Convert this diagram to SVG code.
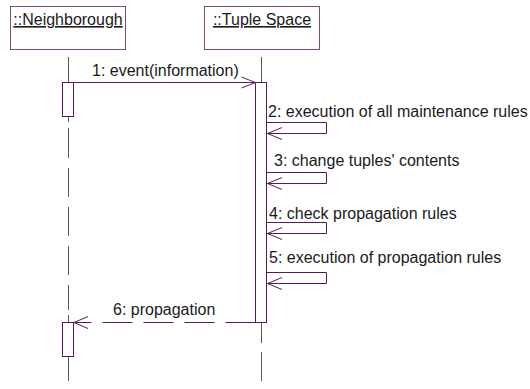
<svg xmlns="http://www.w3.org/2000/svg" width="530" height="389" viewBox="0 0 530 389">
  <style>
    .hdr{fill:#fff;stroke:#7b4f7b;stroke-width:1}
    .life{stroke:#5a5a5a;stroke-width:1;fill:none}
    .act{fill:#fff;stroke:#5a1a5a;stroke-width:1}
    .msg{stroke:#5a1a5a;stroke-width:1;fill:none}
    .dash{stroke-dasharray:30 11}
    text{font-family:"Liberation Sans",Arial,sans-serif;font-size:16px;fill:#1a1a1a}
    .name{text-decoration:underline;text-anchor:middle}
  </style>
  <rect width="530" height="389" fill="#fff"/>

  <!-- object: Neighborough -->
  <g id="neighborough">
    <rect class="hdr" x="10.5" y="6.5" width="115" height="43"/>
    <text class="name" x="68" y="25">::Neighborough</text>
    <path class="life" d="M68.5 57V82 M68.5 117V122 M68.5 128V158 M68.5 168V197 M68.5 207V236 M68.5 246V275 M68.5 285V310 M68.5 315V322 M68.5 357V381"/>
    <rect class="act" x="62.5" y="82.5" width="11" height="34"/>
    <rect class="act" x="62.5" y="322.5" width="11" height="34"/>
  </g>

  <!-- object: Tuple Space -->
  <g id="tuple-space">
    <rect class="hdr" x="204.5" y="6.5" width="115" height="43"/>
    <text class="name" x="262" y="25">::Tuple Space</text>
    <path class="life" d="M261.5 57V82 M261.5 323V343 M261.5 352V381"/>
    <rect class="act" x="255.5" y="82.5" width="11" height="240"/>
  </g>

  <!-- messages -->
  <g id="connectors">
    <path class="msg" d="M62.5 82.5H255.5"/>
    <polyline class="msg" points="241.5,77 255.5,82.5 241.5,88"/>
    <text x="92" y="76">1: event(information)</text>

    <path class="msg" d="M266.5 122.5H326.5V133.5H267"/>
    <polyline class="msg" points="282,127.5 267.5,133.5 282,139.5"/>
    <text x="268" y="117">2: execution of all maintenance rules</text>

    <path class="msg" d="M266.5 172.5H326.5V183.5H267"/>
    <polyline class="msg" points="282,177.5 267.5,183.5 282,189.5"/>
    <text x="274" y="166">3: change tuples' contents</text>

    <path class="msg" d="M266.5 222.5H326.5V233.5H267"/>
    <polyline class="msg" points="282,227.5 267.5,233.5 282,239.5"/>
    <text x="269" y="218.5">4: check propagation rules</text>

    <path class="msg" d="M266.5 272.5H326.5V283.5H267"/>
    <polyline class="msg" points="282,277.5 267.5,283.5 282,289.5"/>
    <text x="269" y="262.5">5: execution of propagation rules</text>

    <path class="msg dash" d="M255.5 322.5H74"/>
    <polyline class="msg" points="88,316.5 74,322.5 88,328.5"/>
    <text x="113" y="315">6: propagation</text>
  </g>
</svg>
